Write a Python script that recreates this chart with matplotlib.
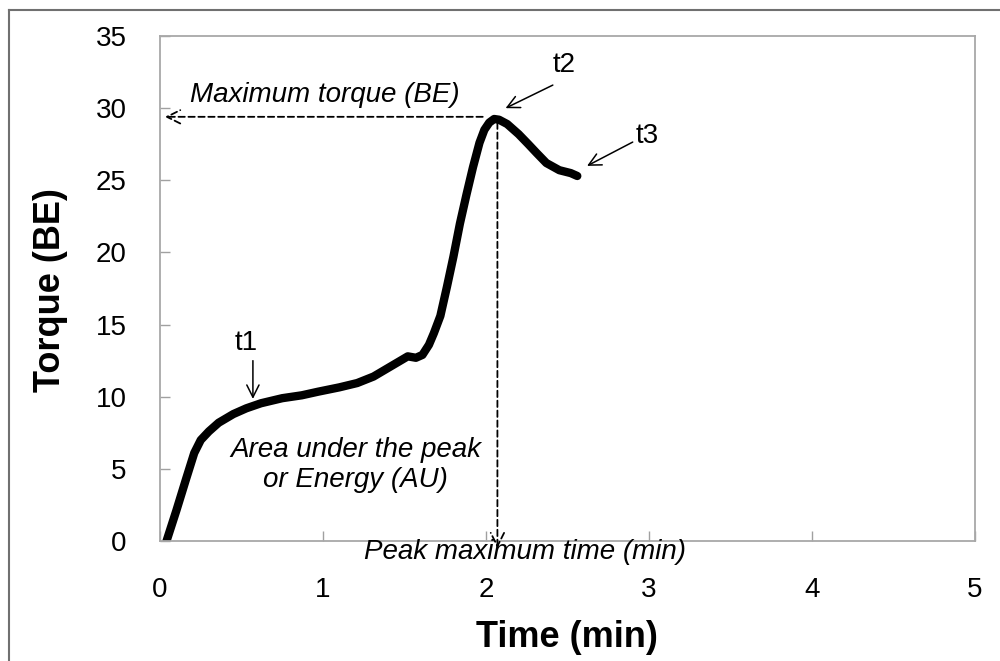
import matplotlib.pyplot as plt
from matplotlib.lines import Line2D

plt.rcParams['font.family'] = ['Liberation Sans', 'DejaVu Sans']

# torque curve
time_min = [0.04, 0.10, 0.16, 0.21, 0.25, 0.30, 0.36, 0.45, 0.53, 0.62, 0.75, 0.87,
            0.97, 1.10, 1.21, 1.31, 1.40, 1.49, 1.52, 1.57, 1.61, 1.65, 1.68, 1.72,
            1.76, 1.80, 1.84, 1.88, 1.92, 1.96, 1.99, 2.02, 2.05, 2.08, 2.13, 2.20,
            2.26, 2.31, 2.37, 2.45, 2.52, 2.56]
torque_be = [0.0, 2.1, 4.3, 6.1, 7.0, 7.6, 8.2, 8.8, 9.2, 9.55, 9.9, 10.1,
             10.35, 10.65, 10.95, 11.4, 12.0, 12.6, 12.8, 12.7, 12.9, 13.6, 14.4, 15.6,
             17.6, 19.7, 22.0, 24.0, 25.9, 27.6, 28.5, 29.0, 29.25, 29.2, 28.9, 28.2,
             27.5, 26.9, 26.2, 25.7, 25.5, 25.3]

x_ticks = [0, 1, 2, 3, 4, 5]
y_ticks = [0, 5, 10, 15, 20, 25, 30, 35]

peak_time = 2.07
peak_torque = 29.4

fig = plt.figure(figsize=(10, 6.61), dpi=100)
ax = fig.add_axes([0.16, 0.1815, 0.815, 0.764])

ax.plot(time_min, torque_be, color='black', lw=6, solid_capstyle='round',
        solid_joinstyle='round')

ax.set_xlim(0, 5)
ax.set_ylim(0, 35)
ax.set_xticks(x_ticks)
ax.set_yticks(y_ticks)
ax.tick_params(direction='in', length=7, width=1, color='#a0a0a0', labelsize=20)
ax.tick_params(axis='x', pad=26)
ax.tick_params(axis='y', pad=24)
for s in ax.spines.values():
    s.set_color('#a8a8a8')
    s.set_linewidth(1.3)

fig.text(0.567, 0.036, 'Time (min)', fontsize=26, fontweight='bold',
         ha='center', va='center')
fig.text(0.05, 1 - 290 / 661, 'Torque (BE)', fontsize=26, fontweight='bold',
         rotation=90, ha='center', va='center')

dash = dict(arrowstyle='->', color='black', lw=1.3, linestyle=(0, (3.5, 2)),
            mutation_scale=24, shrinkA=0, shrinkB=0)
# max torque, horizontal
ax.annotate('', xy=(0.03, peak_torque), xytext=(1.98, peak_torque),
            arrowprops=dash, annotation_clip=False)
# peak time, vertical
ax.annotate('', xy=(peak_time, -0.5), xytext=(peak_time, 29.0),
            arrowprops=dash, annotation_clip=False)

ax.text(1.01, 30.9, 'Maximum torque (BE)', fontsize=20, style='italic',
        ha='center', va='center')
ax.text(1.20, 5.3, 'Area under the peak\nor Energy (AU)', fontsize=20,
        style='italic', ha='center', va='center', linespacing=1.2)
ax.text(2.24, -0.75, 'Peak maximum time (min)', fontsize=20, style='italic',
        ha='center', va='center', clip_on=False)

thin = dict(arrowstyle='->', color='black', lw=1.1, mutation_scale=22,
            shrinkA=0, shrinkB=0)
ax.annotate('', xy=(0.57, 9.85), xytext=(0.57, 12.5), arrowprops=thin)
ax.text(0.53, 13.7, 't1', fontsize=20, ha='center', va='center')
ax.annotate('', xy=(2.12, 30.0), xytext=(2.41, 31.6), arrowprops=thin,
            annotation_clip=False)
ax.text(2.48, 33.0, 't2', fontsize=20, ha='center', va='center')
ax.annotate('', xy=(2.62, 26.0), xytext=(2.90, 27.65), arrowprops=thin)
ax.text(2.99, 28.1, 't3', fontsize=20, ha='center', va='center')

# outer frame (top and left only, as in the source image)
fig.add_artist(Line2D([0.009, 1.0], [1 - 10 / 661] * 2, color='#707070', lw=1.5))
fig.add_artist(Line2D([0.009, 0.009], [0.0, 1 - 10 / 661], color='#707070', lw=1.5))

fig.savefig('out.png', dpi=100)
